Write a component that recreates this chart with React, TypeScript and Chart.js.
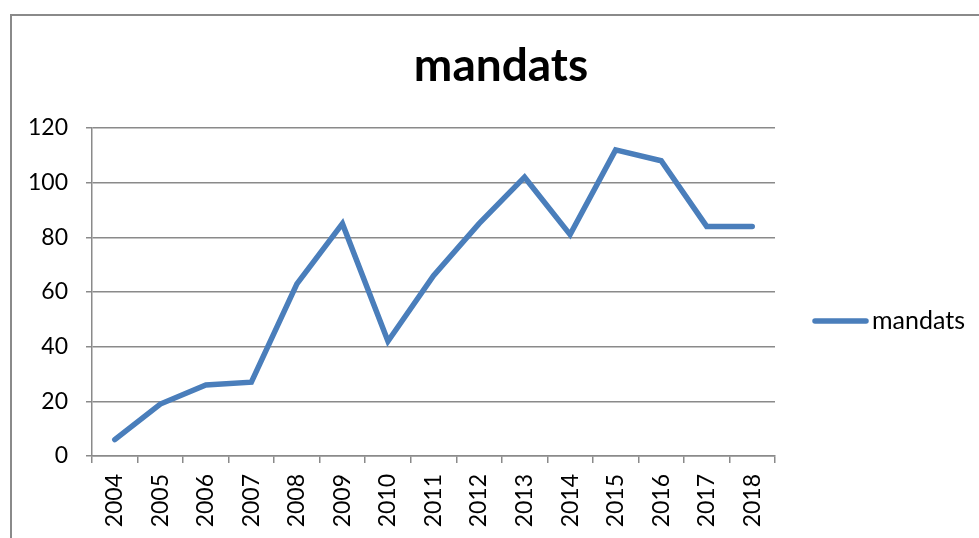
import { useEffect, useRef } from "react";
import { Chart, registerables } from "chart.js";

Chart.register(...registerables);

const years = [
  "2004", "2005", "2006", "2007", "2008", "2009", "2010", "2011",
  "2012", "2013", "2014", "2015", "2016", "2017", "2018",
];
const mandats = [6, 19, 26, 27, 63, 85, 42, 66, 85, 102, 81, 112, 108, 84, 84];
const seriesLabel = "mandats";
const chartTitle = "mandats";
const yMin = 0;
const yMax = 120;
const yStep = 20;

const LINE = "#4A7EBB";
const GRID = "#8a8a8a";
const FONT = "Lato, 'Open Sans', sans-serif";

const framePlugin = {
  id: "frame",
  beforeDraw(chart: any) {
    const ctx = chart.ctx;
    ctx.save();
    ctx.fillStyle = "#ffffff";
    ctx.fillRect(0, 0, chart.width, chart.height);
    ctx.strokeStyle = GRID;
    ctx.lineWidth = 2;
    ctx.strokeRect(11, 15, chart.width + 10, chart.height + 20);
    ctx.restore();
  },
};

const sideLegendPlugin = {
  id: "sideLegend",
  afterDraw(chart: any) {
    const ctx = chart.ctx;
    const ds = chart.data.datasets[0];
    const area = chart.chartArea;
    const x0 = area.right + 40;
    const y = 321;
    ctx.save();
    ctx.strokeStyle = ds.borderColor;
    ctx.lineWidth = ds.borderWidth;
    ctx.lineCap = "round";
    ctx.beginPath();
    ctx.moveTo(x0, y);
    ctx.lineTo(x0 + 51, y);
    ctx.stroke();
    ctx.fillStyle = "#000000";
    ctx.font = `25px ${FONT}`;
    ctx.textBaseline = "middle";
    ctx.textAlign = "left";
    ctx.fillText(ds.label, x0 + 57, y);
    ctx.restore();
  },
};

export default function App() {
  const ref = useRef<HTMLCanvasElement | null>(null);

  useEffect(() => {
    if (!ref.current) return;
    const chart = new Chart(ref.current, {
      type: "line",
      data: {
        labels: years,
        datasets: [
          {
            label: seriesLabel,
            data: mandats,
            borderColor: LINE,
            backgroundColor: LINE,
            borderWidth: 5.5,
            pointRadius: 0,
            pointHoverRadius: 0,
            tension: 0,
            borderCapStyle: "round",
            borderJoinStyle: "miter",
            yAxisID: "y",
          },
        ],
      },
      options: {
        animation: false,
        responsive: false,
        maintainAspectRatio: false,
        layout: { padding: { left: 23, right: 0, top: 15, bottom: 0 } },
        plugins: {
          legend: { display: false },
          tooltip: { enabled: false },
          title: {
            display: true,
            text: chartTitle,
            color: "#000000",
            font: { family: FONT, size: 46, weight: "bold" },
            padding: { top: 24, bottom: 33.8 },
          },
        },
        scales: {
          x: {
            type: "category",
            offset: true,
            grid: {
              display: true,
              drawOnChartArea: false,
              drawTicks: true,
              tickLength: 7,
              offset: true,
              color: GRID,
              lineWidth: 1.5,
            },
            border: { display: true, color: GRID, width: 1.5 },
            ticks: {
              color: "#000000",
              font: { family: FONT, size: 23 },
              minRotation: 90,
              maxRotation: 90,
              padding: 11,
              autoSkip: false,
            },
            afterFit(scale: any) {
              scale.height = 82;
            },
          },
          y: {
            type: "linear",
            position: "left",
            min: yMin,
            max: yMax,
            grid: {
              color: GRID,
              lineWidth: 1.5,
              drawTicks: true,
              tickLength: 6,
            },
            border: { display: true, color: GRID, width: 1.5 },
            ticks: {
              stepSize: yStep,
              color: "#000000",
              font: { family: FONT, size: 23 },
              padding: 18,
            },
            afterFit(scale: any) {
              scale.width = 69;
            },
          },
          legendSpace: {
            type: "linear",
            position: "right",
            display: true,
            grid: { display: false, drawTicks: false },
            border: { display: false },
            ticks: { display: false },
            afterFit(scale: any) {
              scale.width = 204;
            },
          },
        },
      },
      plugins: [framePlugin, sideLegendPlugin],
    });
    return () => chart.destroy();
  }, []);

  return (
    <div style={{ position: "fixed", left: 0, top: 0, width: 979, height: 538 }}>
      <canvas ref={ref} width={979} height={538} style={{ display: "block" }} />
    </div>
  );
}
